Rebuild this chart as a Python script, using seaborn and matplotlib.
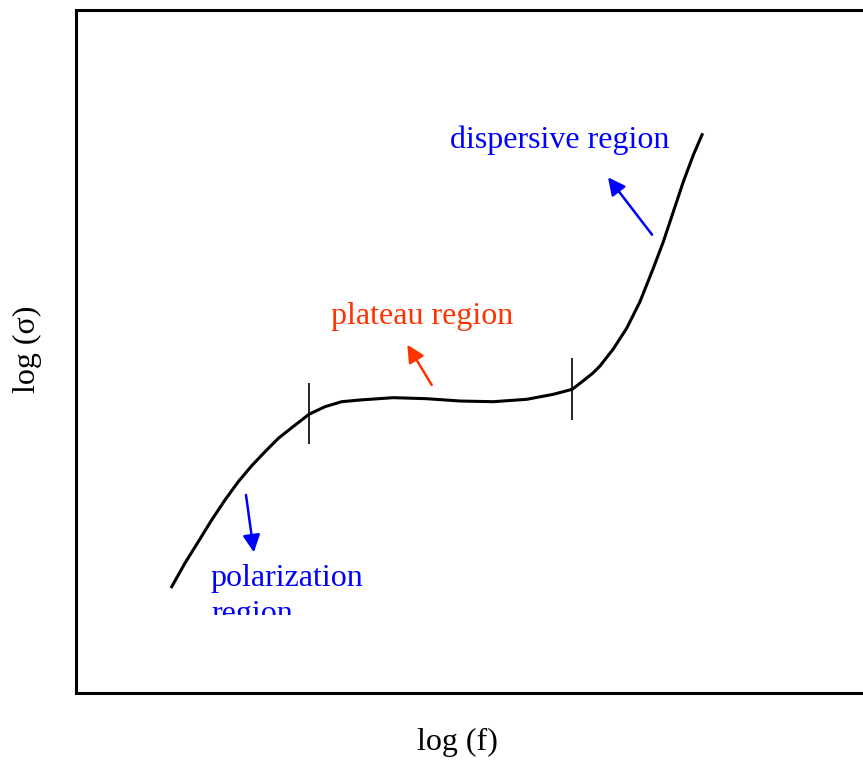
import matplotlib
matplotlib.use("Agg")
import matplotlib.pyplot as plt
import seaborn as sns
import pandas as pd
from matplotlib.transforms import Bbox, TransformedBbox

# ---- data (arbitrary log units) ----
log_f = [1.207, 1.385, 1.554, 1.724, 1.893, 2.062, 2.233, 2.402, 2.571, 2.741,
         2.961, 3.164, 3.376, 3.609, 4.032, 4.456, 4.879, 5.302, 5.727, 6.065,
         6.306, 6.442, 6.569, 6.658, 6.827, 6.997, 7.166, 7.335, 7.463, 7.590,
         7.717, 7.844, 7.963]
log_sigma = [1.537, 1.903, 2.215, 2.533, 2.826, 3.094, 3.328, 3.533, 3.729, 3.884,
             4.081, 4.192, 4.265, 4.290, 4.324, 4.309, 4.275, 4.265, 4.300, 4.373,
             4.447, 4.568, 4.685, 4.788, 5.037, 5.340, 5.729, 6.218, 6.608, 7.047,
             7.486, 7.877, 8.195]

# region boundaries (x position, lower y, upper y)
boundary_x = [2.96, 6.30]
boundary_lo = [3.65, 4.00]
boundary_hi = [4.54, 4.90]

region_labels = ["polarization", "plateau region", "dispersive region"]
region_colors = ["#0000FF", "#FF3300", "#0000FF"]

df = pd.DataFrame({"log_f": log_f, "log_sigma": log_sigma})

sns.set_theme(style="white")
plt.rcParams["font.family"] = ["Liberation Serif", "DejaVu Serif"]

W, H = 863, 760
fig = plt.figure(figsize=(W / 100, H / 100), dpi=100)
ax = fig.add_axes([76 / W, (760 - 693) / H, 1 - 76 / W, (693 - 10) / H])
ax.set_xlim(0, 787 / 78.7)
ax.set_ylim(0, 683 / 68.3)

sns.lineplot(data=df, x="log_f", y="log_sigma", sort=False, color="black",
             lw=2.2, ax=ax)
for ln in ax.lines:
    ln.set_solid_joinstyle("round")
    ln.set_solid_capstyle("butt")
ax.vlines(boundary_x, boundary_lo, boundary_hi, color="black", lw=1.2)

fs = 23
# text labels
ax.text(4.75, 7.98, region_labels[2], color=region_colors[2], fontsize=fs,
        ha="left", va="baseline")
ax.text(3.24, 5.40, region_labels[1], color=region_colors[1], fontsize=fs,
        ha="left", va="baseline")
ax.text(1.715, 1.567, region_labels[0], color=region_colors[0], fontsize=fs,
        ha="left", va="baseline")
t2 = ax.text(1.715, 1.04, "region", color=region_colors[0], fontsize=fs,
             ha="left", va="baseline")
clip = TransformedBbox(Bbox([[0, 1.142], [10, 10]]), ax.transData)
t2.set_clip_box(clip)
t2.set_clip_on(True)

# arrows
arrows = [((2.16, 2.90), (2.26, 2.06), region_colors[0]),
          ((4.52, 4.51), (4.21, 5.10), region_colors[1]),
          ((7.32, 6.71), (6.76, 7.55), region_colors[2])]
for start, end, c in arrows:
    ax.annotate("", xy=end, xytext=start,
                arrowprops=dict(arrowstyle="-|>", color=c, lw=1.8,
                                mutation_scale=26, shrinkA=0, shrinkB=0))

ax.set_xlabel("")
ax.set_ylabel("")
ax.set_xticks([])
ax.set_yticks([])
for s in ["left", "top", "bottom"]:
    ax.spines[s].set_visible(True)
    ax.spines[s].set_color("black")
    ax.spines[s].set_linewidth(2.2)
ax.spines["right"].set_visible(False)

fig.text(457 / W, 1 - 750 / H, "log (f)", fontsize=fs, ha="center",
         va="baseline", color="black")
fig.text(27 / W, 1 - 349 / H, "log (σ)", fontsize=fs, ha="center",
         va="center", rotation=90, color="black")

fig.savefig("out.png", dpi=100, facecolor="white")
